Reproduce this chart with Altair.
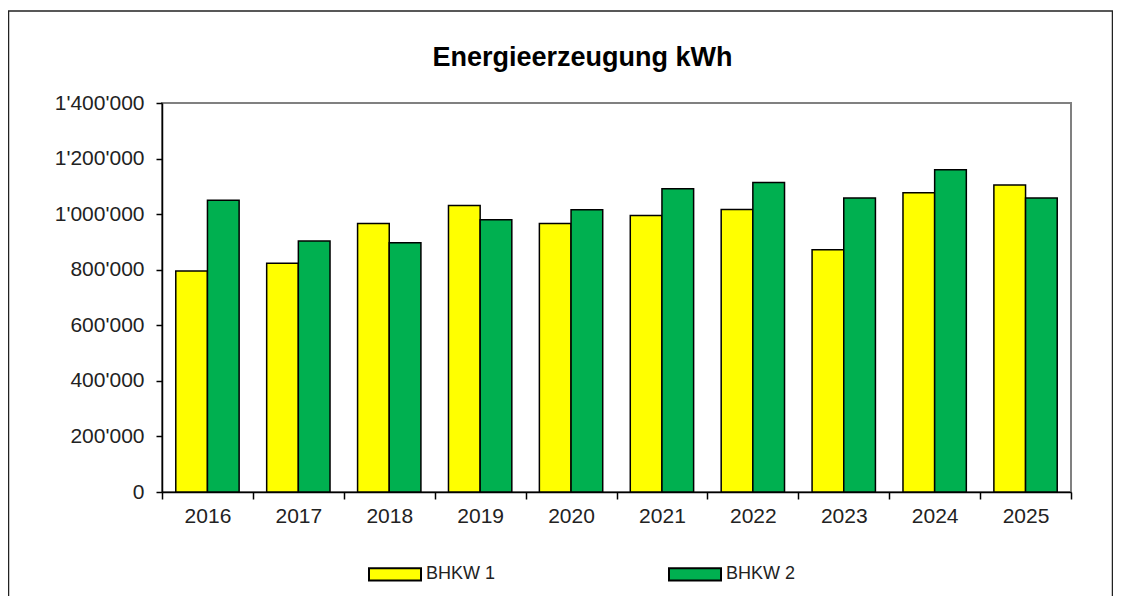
import altair as alt
import pandas as pd

years = ["2016", "2017", "2018", "2019", "2020", "2021", "2022", "2023", "2024", "2025"]
bhkw1 = [795000, 823000, 966000, 1031000, 966000, 995000, 1017000, 872000, 1077000, 1105000]
bhkw2 = [1050000, 903000, 897000, 980000, 1016000, 1091000, 1114000, 1058000, 1160000, 1058000]
series = ["BHKW 1", "BHKW 2"]
colors = ["#FFFF00", "#00B050"]
y_ticks = [0, 200000, 400000, 600000, 800000, 1000000, 1200000, 1400000]

rows = []
for i, yr in enumerate(years):
    rows.append({"Jahr": yr, "Anlage": series[0], "kWh": bhkw1[i]})
    rows.append({"Jahr": yr, "Anlage": series[1], "kWh": bhkw2[i]})
df = pd.DataFrame(rows)

FONT = "Liberation Sans"

bars = alt.Chart(df).mark_bar(stroke="black", strokeWidth=1.5).encode(
    x=alt.X("Jahr:N", sort=years,
            scale=alt.Scale(paddingInner=0, paddingOuter=0),
            axis=alt.Axis(title=None, labelAngle=0, tickBand="extent",
                          labelFontSize=21, labelFont=FONT, labelColor="#222",
                          domainColor="black", domainWidth=1.5,
                          tickColor="black", tickWidth=1.5, tickSize=7,
                          labelPadding=6)),
    xOffset=alt.XOffset("Anlage:N", sort=series,
                        scale=alt.Scale(paddingInner=0, paddingOuter=0.435)),
    y=alt.Y("kWh:Q", scale=alt.Scale(domain=[0, 1400000], nice=False),
            axis=alt.Axis(title=None, values=y_ticks, grid=False,
                          labelExpr="replace(format(datum.value, ','), /,/g, \"'\")",
                          labelFontSize=21, labelFont=FONT, labelColor="#222",
                          domainColor="black", domainWidth=1.5,
                          tickColor="black", tickWidth=1.5, tickSize=6,
                          labelPadding=12)),
    color=alt.Color("Anlage:N", sort=series,
                    scale=alt.Scale(domain=series, range=colors),
                    legend=alt.Legend(title=None, orient="none", legendX=206, legendY=444,
                                      direction="horizontal", columns=2,
                                      columnPadding=169, padding=0,
                                      symbolType="M-1,-0.24L1,-0.24L1,0.24L-1,0.24Z",
                                      symbolSize=2704, symbolStrokeColor="black",
                                      symbolStrokeWidth=2, symbolOpacity=1,
                                      labelFontSize=18, labelFont=FONT, labelColor="#222",
                                      labelOffset=4)),
)

frame = alt.Chart(alt.Data(values=[{}])).mark_rect(
    fill=None, stroke="#222", strokeWidth=1.5
).encode(
    x=alt.value(-153.5), x2=alt.value(950.5), y=alt.value(-92), y2=alt.value(520)
)

chart = alt.layer(bars, frame).properties(
    width=909, height=389,
    autosize=alt.AutoSizeParams(type="none"),
    padding={"left": 154, "top": 95, "right": 42, "bottom": 104},
    title=alt.Title("Energieerzeugung kWh", fontSize=27, fontWeight="bold",
                    font=FONT, color="black", dx=-34, offset=-83,
                    baseline="alphabetic"),
).configure_view(stroke="#808080", strokeWidth=2)

chart.save("out.html", embed_options={"renderer": "svg", "actions": False})
